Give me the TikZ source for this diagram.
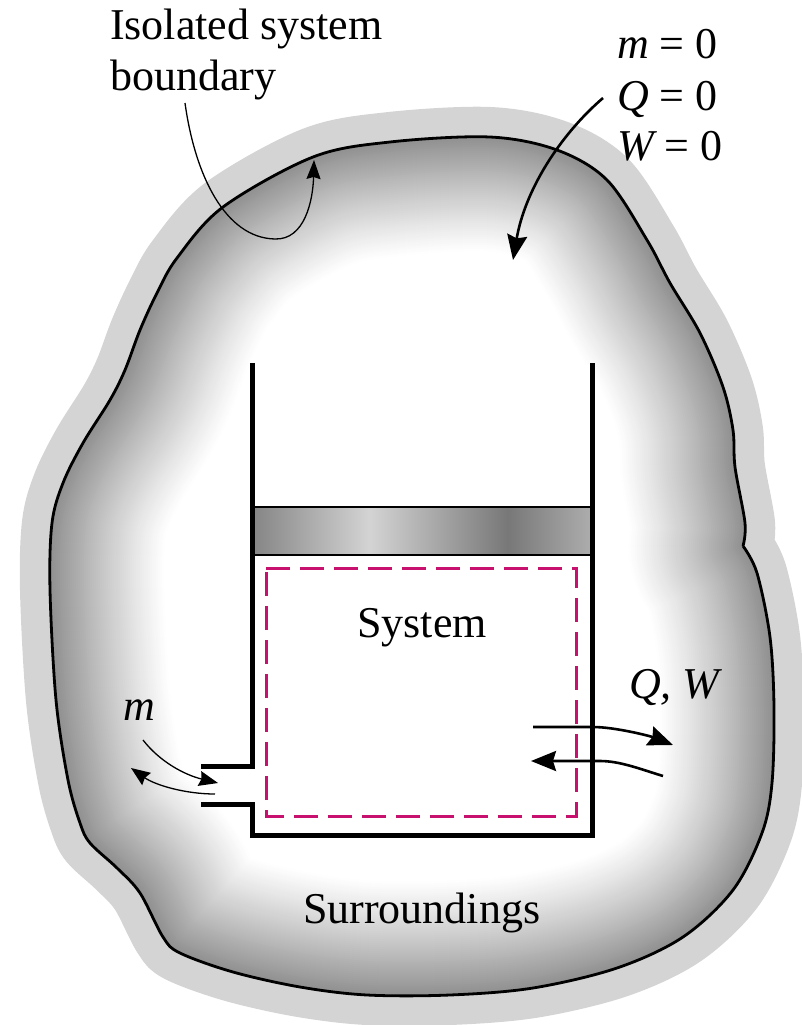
\documentclass[tikz,border=0pt]{standalone}
\usepackage{fontspec}
\setmainfont{Liberation Serif}
\usetikzlibrary{arrows.meta}
\definecolor{bandgray}{gray}{0.83}
\definecolor{dashpink}{RGB}{200,16,110}
\definecolor{pistondark}{gray}{0.47}
\definecolor{pistonlight}{gray}{0.83}
\definecolor{pistonedge}{gray}{0.52}
\definecolor{pistonright}{gray}{0.68}
\pgfdeclarehorizontalshading{pistonshade}{100bp}{color(0bp)=(pistonedge); color(25bp)=(pistonedge); color(42.3bp)=(pistonlight); color(62.6bp)=(pistondark); color(75bp)=(pistonright); color(100bp)=(pistonright)}
\newcommand{\blobpath}{plot[smooth,tension=.55] coordinates {(743,546) (757,573) (770,637) (774,707) (772,783) (762,833) (733,890) (683,937) (617,968) (533,988) (450,995) (367,995) (300,987) (233,972) (180,953) (163,937) (140,893) (117,868) (90,843) (80,823) (68,780) (56,700) (50,590) (52,523) (63,483) (83,443) (110,400) (125,370) (140,330) (157,293) (177,258) (223,207) (313,157) (390,142) (490,137) (557,150) (607,180) (647,240) (670,283) (700,333) (723,387) (733,430) (735,467) (745,523) (743,546)}}
\begin{document}
\begin{tikzpicture}[x=1pt,y=-1pt,
  label/.style={anchor=base west,inner sep=0pt,font=\fontsize{44}{50}\selectfont},
  wall/.style={line width=5pt,line cap=rect},
  thinflow/.style={line width=1.3pt,-{Stealth[length=19pt,width=15pt,inset=2pt]}},
  heavyflow/.style={line width=2.6pt,-{Stealth[length=25pt,width=20pt,inset=3pt]}}]
\useasboundingbox (0,0) rectangle (802,1025);
\draw[bandgray,line width=60pt,line join=round,line cap=round,fill=white] \blobpath;
\begin{scope}
\clip \blobpath;
\fill[white] (0,0) rectangle (802,1025);
\foreach \d in {116,114,...,2}{
  \pgfmathsetmacro{\shade}{44*(1-\d/116)^1.1}
  \draw[black!\shade,line width=2*\d,line cap=round,line join=round] \blobpath;
}
\end{scope}
\draw[line width=2.8pt,line join=miter] \blobpath;

\fill[white] (252,365) rectangle (592,835);
\shade[shading=pistonshade] (252,507) rectangle (592,555);
\draw[line width=2.6pt] (252,507) -- (592,507);
\draw[line width=2.6pt] (252,555) -- (592,555);
\draw[wall] (252,365) -- (252,766) -- (203,766);
\draw[wall] (203,804) -- (252,804) -- (252,835) -- (592,835) -- (592,365);
\draw[dashpink,line width=3pt,dash pattern=on 24pt off 10pt] (266,568) -- (576,568) -- (576,816) -- (266,816) -- cycle;

\node[label] (isolated) at (110,40) {Isolated system};
\node[label] (boundary) at (110,90) {boundary};
\node[label] (mzero) at (617,59) {\itshape m\upshape{} = 0};
\node[label] (qzero) at (617,110) {\itshape Q\upshape{} = 0};
\node[label] (wzero) at (617,160) {\itshape W\upshape{} = 0};
\node[label] (system) at (357,637) {System};
\node[label] (surroundings) at (303,923) {Surroundings};
\node[label] (qw) at (629,698) {\itshape Q, W};
\node[label] (mflow) at (123,720) {\itshape m};

\coordinate (boundarytail) at (185,103);
\coordinate (boundarytip) at (314,160);
\coordinate (zerotail) at (603,98);
\coordinate (zerotip) at (513,260);
\coordinate (minstart) at (143,740);
\coordinate (minend) at (218,783);
\coordinate (moutstart) at (215,794);
\coordinate (moutend) at (131,768);
\coordinate (qoutstart) at (533,727);
\coordinate (qoutend) at (673,745);
\coordinate (qinstart) at (663,776);
\coordinate (qinend) at (531,761);

\draw[line width=1.3pt,-{Stealth[length=19pt,width=14pt,inset=2pt]}] (boundarytail) .. controls (195,175) and (225,238) .. (275,239) .. controls (305,240) and (313,200) .. (boundarytip);
\draw[heavyflow] (zerotail) .. controls (560,135) and (525,190) .. (zerotip);
\draw[thinflow] (minstart) .. controls (160,762) and (185,775) .. (minend);
\draw[thinflow] (moutstart) .. controls (185,794) and (155,785) .. (moutend);
\draw[heavyflow] (qoutstart) -- (593,727) .. controls (615,727) and (650,736) .. (qoutend);
\draw[heavyflow] (qinstart) .. controls (640,769) and (620,761) .. (600,761) -- (qinend);
\end{tikzpicture}
\end{document}
